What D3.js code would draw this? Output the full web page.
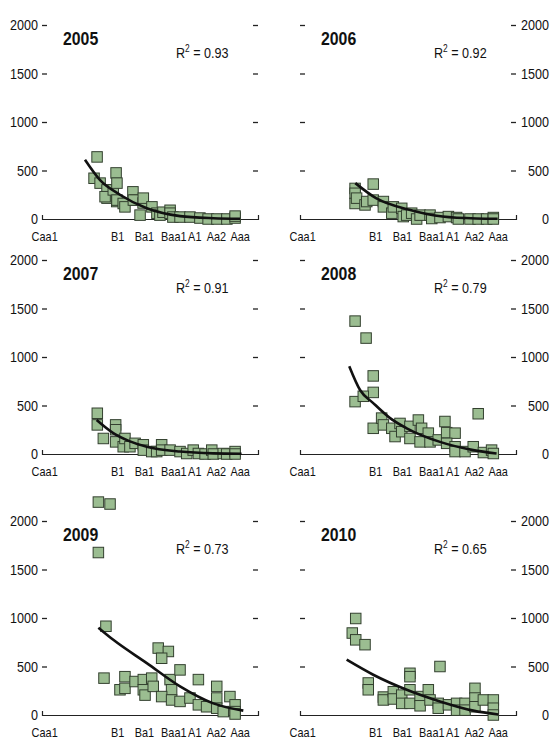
<!DOCTYPE html>
<html>
<head>
<meta charset="utf-8">
<style>
  body { margin: 0; background: #fff; }
  svg { display: block; font-family: 'Liberation Sans', Arial, sans-serif; }
</style>
</head>
<body>
<svg id="chart" width="552" height="738"></svg>
<script src="https://cdn.jsdelivr.net/npm/d3@7"></script>
<script>
// x axis: rating labels and where they sit on the notional scale (0-100)
const ratingLabels = ['Caa1', 'B1', 'Ba1', 'Baa1', 'A1', 'Aa2', 'Aaa'];
const ratingPos = [1.0, 34.8, 47.2, 60.8, 70.5, 80.5, 91.5];
const yTicks = [0, 500, 1000, 1500, 2000];

const years = ['2005', '2006', '2007', '2008', '2009', '2010'];
const r2 = ['0.93', '0.92', '0.91', '0.79', '0.73', '0.65'];

// scatter points [rating position, spread]
const pts2005 = [[25.5,640],[24.1,420],[26.9,370],[30.1,300],[30.1,215],[29.2,230],[33,300],[34.3,475],[34.7,370],[34.6,180],[34.7,195],[37.6,160],[38.4,125],[42.1,280],[43.1,195],[42.3,195],[45.4,40],[46.8,165],[46.9,215],[50.9,125],[53.2,60],[54.6,40],[56,70],[59.3,90],[59.3,60],[60.6,20],[63.9,20],[68.5,20],[73.1,10],[76.9,0],[81,0],[85.6,0],[89.4,10],[89.4,30]];
const pts2006 = [[25.5,315],[25.5,265],[25.5,160],[26.2,215],[30.1,145],[30.9,180],[33.9,360],[33.9,195],[38.6,180],[38.6,125],[42.5,60],[43.2,125],[47.1,110],[47.8,25],[49.4,40],[51.7,60],[54,0],[55.6,40],[60.2,40],[61,5],[64.8,15],[68.7,25],[72.5,15],[73.3,0],[78.7,0],[82.5,0],[86.4,0],[89.5,15],[89.5,0]];
const pts2007 = [[25.6,420],[25.6,300],[28.4,160],[34.1,300],[34.1,250],[34.1,125],[37.6,75],[38.4,160],[40.7,75],[43.1,110],[46.9,95],[46.9,40],[50.8,25],[53.1,25],[55.4,95],[55.4,40],[59.3,40],[63.9,25],[67,5],[70,40],[72.4,5],[75.5,0],[78.6,40],[79.3,0],[83.9,5],[85.5,0],[89.4,25],[89.4,0]];
const pts2008 = [[25.5,1370],[30.6,1195],[33.9,805],[33.9,635],[25.5,540],[29.3,595],[33.9,265],[37.8,370],[38.6,300],[42.5,265],[44,180],[46.3,315],[47.1,230],[50.9,285],[50.9,160],[54.8,350],[56.3,265],[59.4,215],[55.6,125],[60.2,125],[64,145],[67.1,335],[67.9,220],[71.8,215],[67.9,110],[71.8,75],[71.8,25],[76.4,25],[80.2,75],[82.5,415],[84.9,15],[88.7,40],[89.5,5]];
const pts2009 = [[26.1,2195],[31.5,2175],[26.1,1675],[29.6,915],[28.7,380],[38.4,395],[36.1,260],[38.4,275],[43.1,345],[46.9,365],[46.9,260],[47.7,205],[50.8,380],[51.5,295],[53.8,690],[58.5,655],[55.4,585],[59.3,365],[60,260],[55.4,190],[60,155],[63.9,465],[63.9,140],[68.5,175],[72.4,365],[72.4,105],[76.2,85],[80.9,295],[80.9,175],[80.9,70],[87,190],[89.4,105],[89.4,35],[83.9,35],[89.4,10]];
const pts2010 = [[25.8,995],[24.2,845],[25.8,775],[30.1,725],[31.6,330],[31.6,260],[38.6,185],[38.6,155],[43.2,240],[43.2,165],[47.1,205],[47.1,120],[50.9,430],[50.9,395],[50.9,260],[50.9,120],[55.6,190],[55.6,95],[59.4,260],[60.2,155],[64.8,500],[64,120],[64,70],[68.7,105],[72.5,120],[72.5,50],[76.4,120],[76.4,50],[81,275],[81,175],[81,85],[84.9,155],[89.5,155],[89.5,70],[89.5,0]];

// fitted curves
const fit2005 = [[19.9,610],[26.9,400],[36.1,250],[48.5,110],[63.9,30],[79.3,8],[91.7,2]];
const fit2006 = [[25.6,370],[35.2,215],[50.6,95],[66,25],[81.5,5],[91.5,2]];
const fit2007 = [[25.3,350],[33,215],[40.7,130],[48.5,75],[63.9,25],[79.3,6],[92.4,2]];
const fit2008 = [[22.8,905],[27.8,660],[33.9,525],[41.7,370],[49.4,265],[64.8,125],[80.2,40],[91,5]];
const fit2009 = [[26.1,900],[33,775],[48.5,535],[63.9,295],[79.3,120],[93.2,45]];
const fit2010 = [[21.6,570],[33.9,415],[49.4,260],[64.8,140],[80.2,45],[91.8,5]];

const points = [pts2005, pts2006, pts2007, pts2008, pts2009, pts2010];
const fits = [fit2005, fit2006, fit2007, fit2008, fit2009, fit2010];

const svg = d3.select('#chart');
const panelW = 216, panelH = 194;
const colX = [42, 300];
const rowBase = [219, 454, 715];
const sq = 10.5;

// no condensed font available, so narrow the text horizontally
function squeeze(sel, k) {
    sel.each(function () {
        const t = d3.select(this);
        const x = +t.attr('x') || 0;
        t.attr('x', x / k).attr('transform', `scale(${k},1)`);
    });
}

years.forEach((yr, i) => {
    const col = i % 2, row = Math.floor(i / 2);
    const x0 = colX[col], base = rowBase[row];
    const x = d3.scaleLinear().domain([0, 100]).range([x0, x0 + panelW]);
    const y = d3.scaleLinear().domain([0, 2000]).range([base, base - panelH]);
    const g = svg.append('g');

    // x axis with small upward end ticks
    const xa = g.append('g')
        .attr('transform', `translate(0,${base})`)
        .call(d3.axisBottom(x).tickValues(ratingPos)
            .tickFormat((d, k) => ratingLabels[k])
            .tickSizeInner(0).tickSizeOuter(-4).tickPadding(13));
    xa.select('.domain').attr('stroke', '#222').attr('stroke-width', 1.2);
    xa.selectAll('text').attr('font-size', 13).attr('fill', '#111').attr('font-family', null)
        .call(squeeze, 0.84);

    // y ticks on both sides, pointing inwards
    const left = g.append('g').attr('transform', `translate(${x0},0)`)
        .call(d3.axisLeft(y).tickValues(yTicks).tickSizeInner(-5).tickSizeOuter(0).tickPadding(4)
            .tickFormat(col === 0 ? d3.format('d') : ''));
    const right = g.append('g').attr('transform', `translate(${x0 + panelW},0)`)
        .call(d3.axisRight(y).tickValues(yTicks).tickSizeInner(-5).tickSizeOuter(0).tickPadding(4)
            .tickFormat(col === 1 ? d3.format('d') : ''));
    right.selectAll('text').attr('text-anchor', 'end').attr('x', 33);
    [left, right].forEach(a => {
        a.select('.domain').remove();
        a.selectAll('.tick line').attr('stroke', '#222').attr('stroke-width', 1.3)
            .filter(d => d === 0).remove();
        a.selectAll('text').attr('font-size', 15).attr('fill', '#111').attr('font-family', null)
            .call(squeeze, 0.84);
    });

    // squares
    g.append('g').selectAll('rect')
        .data(points[i])
        .join('rect')
        .attr('x', d => x(d[0]) - sq / 2)
        .attr('y', d => y(d[1]) - sq / 2)
        .attr('width', sq)
        .attr('height', sq)
        .attr('fill', '#9bbd91')
        .attr('stroke', '#33402f')
        .attr('stroke-width', 1);

    // fit line
    g.append('path')
        .datum(fits[i])
        .attr('fill', 'none')
        .attr('stroke', '#111')
        .attr('stroke-width', 2.6)
        .attr('d', d3.line().x(d => x(d[0])).y(d => y(d[1])).curve(d3.curveMonotoneX));

    // year + R²
    g.append('text')
        .attr('x', x0 + 21)
        .attr('y', y(1800) + 1)
        .attr('font-size', 18)
        .attr('font-weight', 'bold')
        .attr('fill', '#111')
        .text(yr)
        .call(squeeze, 0.88);
    const t = g.append('text')
        .attr('x', x0 + 134)
        .attr('y', y(1660))
        .attr('font-size', 15)
        .attr('fill', '#111');
    t.append('tspan').text('R');
    t.append('tspan').attr('font-size', 10).attr('dy', -6).text('2');
    t.append('tspan').attr('dy', 6).text(' = ' + r2[i]);
    t.call(squeeze, 0.84);
});
</script>
</body>
</html>
